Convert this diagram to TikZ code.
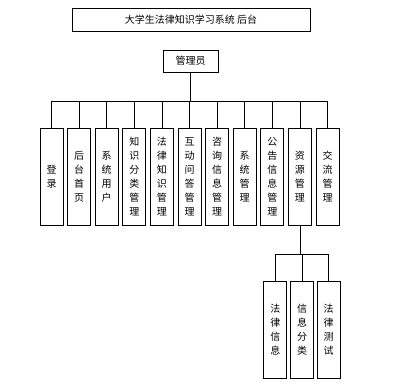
\documentclass[tikz,border=0pt]{standalone}
\usepackage{fontspec}
\setmainfont{Noto Sans CJK SC}

\begin{document}
\begin{tikzpicture}[x=1pt,y=-1pt,font=\fontsize{10}{14}\selectfont,line width=0.8pt,
  box/.style={draw,minimum width=23pt,minimum height=97pt,inner sep=0pt,align=center}]
  \useasboundingbox (0,0) rectangle (395,385);
  % top levels
  \node[draw,minimum width=238pt,minimum height=23pt,inner sep=0pt] (sys) at (191,19.5) {大学生法律知识学习系统 后台};
  \node[draw,minimum width=55pt,minimum height=22pt,inner sep=0pt] (adm) at (190.5,61) {管理员};
  % modules
  \foreach \i/\t in {1/{登\\录},2/{后\\台\\首\\页},3/{系\\统\\用\\户},4/{知\\识\\分\\类\\管\\理},
      5/{法\\律\\知\\识\\管\\理},6/{互\\动\\问\\答\\管\\理},7/{咨\\询\\信\\息\\管\\理},
      8/{系\\统\\管\\理},9/{公\\告\\信\\息\\管\\理},10/{资\\源\\管\\理},11/{交\\流\\管\\理}}
    \node[box] (m\i) at ({51.5+27.6*(\i-1)},176.5) {\t};
  \coordinate (bus) at (190.5,101);
  \draw (adm) -- (bus);
  \foreach \i in {1,...,11} \draw (bus) -| (m\i.north);
  % resources
  \foreach \i/\t in {1/{法\\律\\信\\息},2/{信\\息\\分\\类},3/{法\\律\\测\\试}}
    \node[box] (s\i) at ({275.3+26.7*(\i-1)},329.5) {\t};
  \coordinate (sbus) at (m10.south |- 0,254);
  \draw (m10) -- (sbus);
  \foreach \i in {1,2,3} \draw (sbus) -| (s\i.north);
\end{tikzpicture}
\end{document}
